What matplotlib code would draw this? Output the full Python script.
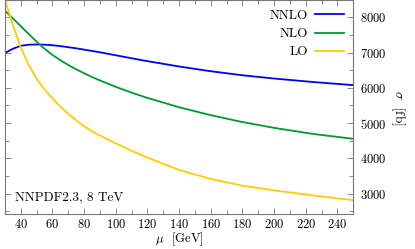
import matplotlib
matplotlib.use('Agg')
import matplotlib.pyplot as plt
from matplotlib.ticker import MultipleLocator

plt.rcParams['font.family'] = 'cmr10'
plt.rcParams['mathtext.fontset'] = 'cm'
plt.rcParams['axes.formatter.use_mathtext'] = True

# scale mu [GeV] and cross sections [fb]
mu = [30, 35, 40, 45, 50, 55, 60, 65, 70, 75, 80, 85, 90, 100, 110, 120, 140, 160, 180, 200, 225, 250]
nnlo = [6990, 7110, 7195, 7225, 7232, 7226, 7210, 7185, 7155, 7122, 7085, 7048, 7010, 6925,
        6840, 6758, 6607, 6472, 6358, 6265, 6165, 6078]
nlo = [8190, 7970, 7750, 7530, 7310, 7110, 6935, 6785, 6650, 6527, 6415, 6308, 6210, 6030,
       5865, 5715, 5450, 5225, 5030, 4865, 4690, 4555]
lo = [8500, 7780, 7150, 6650, 6260, 5950, 5700, 5470, 5260, 5075, 4910, 4765, 4645, 4425,
      4215, 4020, 3670, 3415, 3225, 3090, 2945, 2810]

grey = '#777777'

fig = plt.figure(figsize=(4.15, 2.49), dpi=100)
ax = fig.add_axes([0.012, 0.1406, 0.839, 0.8574])

ax.plot(mu, nnlo, color='#0000ee', lw=1.3, label='NNLO')
ax.plot(mu, nlo, color='#009933', lw=1.3, label='NLO')
ax.plot(mu, lo, color='#ffcc00', lw=1.3, label='LO')

ax.set_xlim(30, 250)
ax.set_ylim(2420, 8480)
ax.xaxis.set_major_locator(MultipleLocator(20))
ax.xaxis.set_minor_locator(MultipleLocator(10))
ax.yaxis.set_major_locator(MultipleLocator(1000))
ax.yaxis.set_minor_locator(MultipleLocator(500))

ax.tick_params(which='both', direction='in', top=True, bottom=True, left=True, right=True,
               labelleft=False, labelright=True, color=grey, labelsize=9)
ax.tick_params(which='major', length=4, width=0.6)
ax.tick_params(which='minor', length=3, width=0.6)
ax.tick_params(axis='x', pad=3)
ax.tick_params(axis='y', pad=5)
for s in ax.spines.values():
    s.set_color(grey)
    s.set_linewidth(0.8)

ax.set_xlabel(r'$\mu$  [GeV]', fontsize=9.2, labelpad=-0.5)
ax.yaxis.set_label_position('right')
ax.set_ylabel(r'$\sigma$  [fb]', fontsize=9.5, rotation=270, labelpad=14)

ax.text(0.03, 0.05, 'NNPDF2.3, 8 TeV', transform=ax.transAxes, fontsize=9.5,
        ha='left', va='bottom')

ax.legend(loc='upper right', frameon=False, markerfirst=False, fontsize=9.5,
          handlelength=2.2, labelspacing=0.45, borderaxespad=0.3, handletextpad=0.5)

fig.savefig('out.png', dpi=100)
